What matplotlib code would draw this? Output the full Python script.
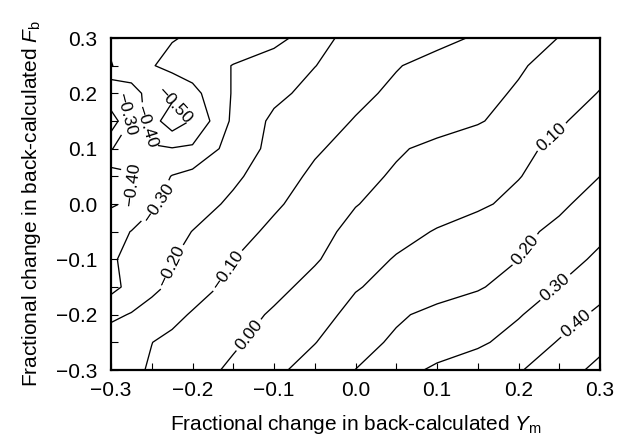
import numpy as np
import matplotlib
matplotlib.use("Agg")
import matplotlib.pyplot as plt
from matplotlib.ticker import MultipleLocator, FuncFormatter

plt.rcParams['font.family'] = ['Liberation Sans', 'DejaVu Sans']
plt.rcParams['mathtext.fontset'] = 'custom'
plt.rcParams['mathtext.rm'] = 'Liberation Sans'
plt.rcParams['mathtext.it'] = 'Liberation Sans:italic'

# Grid: fractional change in Y_m (columns) and F_b (rows)
ym_change = [-0.3, -0.275, -0.25, -0.225, -0.2, -0.15, -0.1, -0.05, 0.0, 0.05, 0.1, 0.15, 0.2, 0.25, 0.3]
fb_change = [0.3, 0.25, 0.2, 0.15, 0.1, 0.05, 0.0, -0.05, -0.1, -0.15, -0.2, -0.25, -0.3]

row_fb_p030 = [-0.48, -0.46, -0.44, -0.405, -0.39, -0.355, -0.33, -0.25, -0.15, -0.135, -0.123, -0.091, -0.044, 0.002, 0.04]
row_fb_p025 = [-0.505, -0.45, -0.405, -0.375, -0.349, -0.297, -0.25, -0.202, -0.153, -0.105, -0.072, -0.041, -0.009, 0.030, 0.074]
row_fb_p020 = [-0.295, -0.37, -0.43, -0.47, -0.43, -0.292, -0.224, -0.169, -0.121, -0.083, -0.054, -0.024, 0.009, 0.057, 0.104]
row_fb_p015 = [-0.14, -0.31, -0.456, -0.56, -0.49, -0.279, -0.18, -0.137, -0.095, -0.066, -0.037, -0.008, 0.038, 0.09, 0.137]
row_fb_p010 = [-0.295, -0.35, -0.39, -0.395, -0.385, -0.255, -0.173, -0.113, -0.061, -0.011, 0.023, 0.052, 0.082, 0.118, 0.167]
row_fb_p005 = [-0.45, -0.41, -0.348, -0.296, -0.270, -0.218, -0.148, -0.080, -0.029, 0.012, 0.040, 0.068, 0.096, 0.146, 0.20]
row_fb_000 = [-0.41, -0.385, -0.312, -0.274, -0.244, -0.181, -0.114, -0.057, -0.003, 0.027, 0.055, 0.084, 0.126, 0.184, 0.238]
row_fb_m005 = [-0.34, -0.297, -0.264, -0.232, -0.198, -0.1375, -0.079, -0.026, 0.022, 0.065, 0.107, 0.143, 0.178, 0.221, 0.278]
row_fb_m010 = [-0.31, -0.278, -0.241, -0.204, -0.170, -0.101, -0.055, -0.009, 0.052, 0.108, 0.138, 0.168, 0.199, 0.259, 0.319]
row_fb_m015 = [-0.33, -0.270, -0.224, -0.181, -0.140, -0.075, -0.026, 0.029, 0.094, 0.128, 0.159, 0.190, 0.243, 0.305, 0.364]
row_fb_m020 = [-0.22, -0.194, -0.159, -0.124, -0.092, -0.040, 0.012, 0.067, 0.125, 0.186, 0.226, 0.259, 0.293, 0.354, 0.421]
row_fb_m025 = [-0.15, -0.125, -0.101, -0.079, -0.057, -0.013, 0.040, 0.097, 0.164, 0.216, 0.25, 0.284, 0.337, 0.407, 0.473]
row_fb_m030 = [-0.145, -0.118, -0.091, -0.065, -0.038, 0.017, 0.079, 0.140, 0.201, 0.264, 0.317, 0.355, 0.392, 0.456, 0.526]

levels = [-0.5, -0.4, -0.3, -0.2, -0.1, 0.0, 0.1, 0.2, 0.3, 0.4, 0.5]
tick_values = [-0.3, -0.2, -0.1, 0.0, 0.1, 0.2, 0.3]

Z = np.array([row_fb_p030, row_fb_p025, row_fb_p020, row_fb_p015, row_fb_p010,
              row_fb_p005, row_fb_000, row_fb_m005, row_fb_m010, row_fb_m015,
              row_fb_m020, row_fb_m025, row_fb_m030])
X = np.array(ym_change)
Y = np.array(fb_change)

fig = plt.figure(figsize=(6.31, 4.44), dpi=100)
ax = fig.add_axes([111/631, 1-370/444, 489/631, 332/444])

cs = ax.contour(X, Y, Z, levels=levels, colors='black', linewidths=0.95,
                linestyles='solid', negative_linestyles='solid')

def fmt(v):
    s = f"{v:.2f}"
    if s == "-0.00":
        s = "0.00"
    return s.replace("-", "\u2212")

label_spots = [(0.242, 0.119), (0.212, -0.087), (0.246, -0.152), (0.272, -0.219),
               (-0.129, -0.239), (-0.154, -0.123), (-0.225, -0.114), (-0.245, 0.004),
               (-0.277, 0.036), (-0.279, 0.166), (-0.256, 0.140), (-0.222, 0.178)]
ax.clabel(cs, fmt=fmt, fontsize=12.5, inline=True, inline_spacing=3, manual=label_spots)

ax.set_xlim(-0.3, 0.3)
ax.set_ylim(-0.3, 0.3)
ax.set_xticks(tick_values)
ax.set_yticks(tick_values)
ax.xaxis.set_minor_locator(MultipleLocator(0.05))
ax.yaxis.set_minor_locator(MultipleLocator(0.05))
tf = FuncFormatter(lambda v, p: f"{v:.1f}".replace("-0.0", "0.0").replace("-", "\u2212"))
ax.xaxis.set_major_formatter(tf)
ax.yaxis.set_major_formatter(tf)
ax.tick_params(which='both', direction='in', length=5, width=0.8, top=False, right=False)
ax.tick_params(axis='x', which='major', labelsize=15, pad=8)
ax.tick_params(axis='y', which='major', labelsize=15, pad=10)
for sp in ax.spines.values():
    sp.set_linewidth(1.6)

ax.set_xlabel(r"Fractional change in back-calculated $Y_\mathrm{m}$", fontsize=15, labelpad=9)
ax.set_ylabel(r"Fractional change in back-calculated $F_\mathrm{b}$", fontsize=15, labelpad=9)

fig.savefig("out.png", dpi=100)
